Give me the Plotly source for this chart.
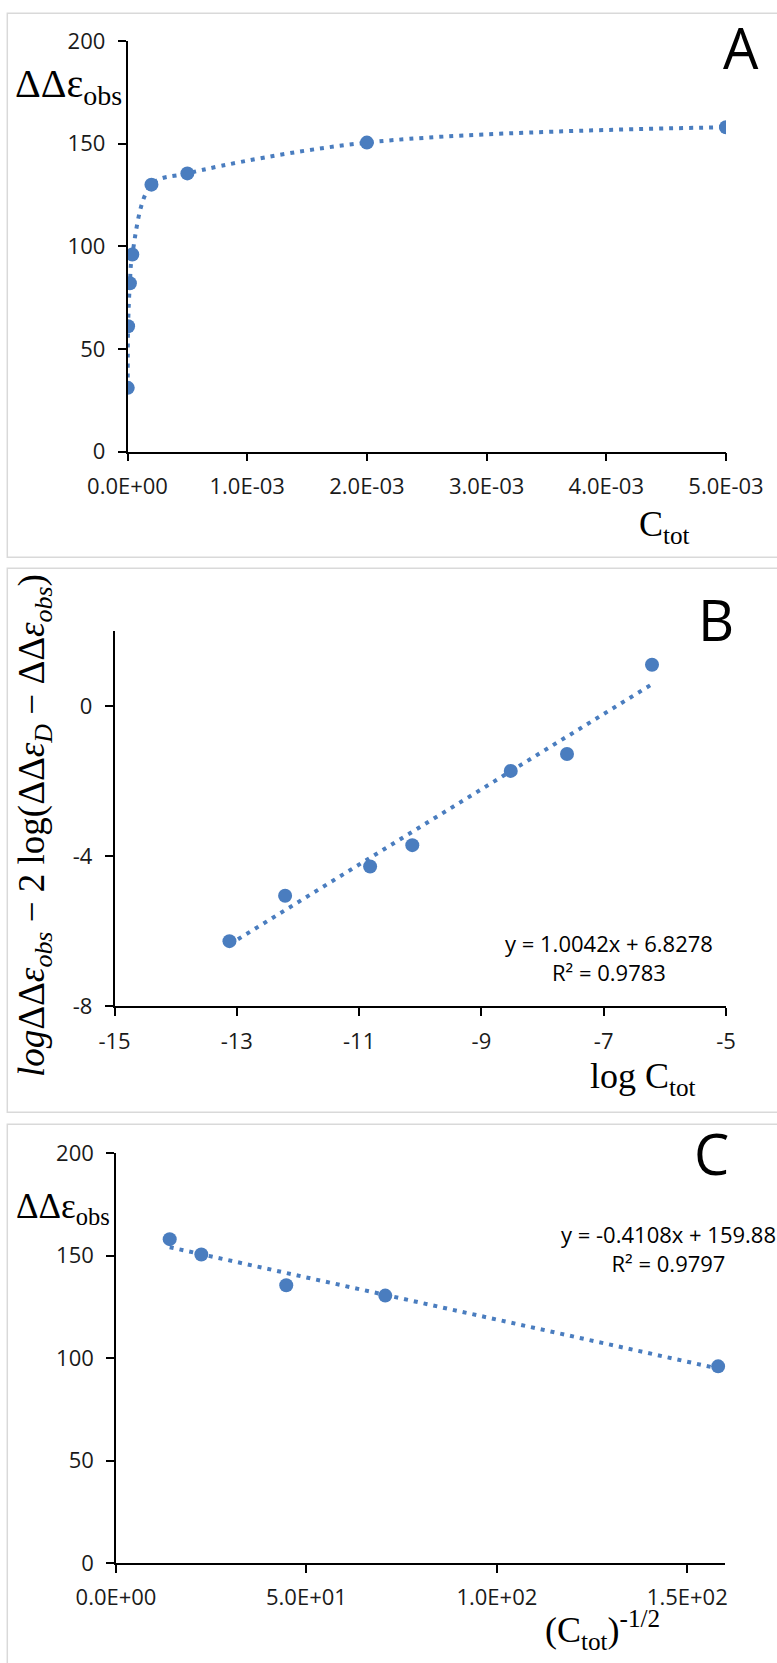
import plotly.graph_objects as go

# ---------------- data ----------------
# Panel A: ΔΔε_obs vs C_tot
a_ctot = [2e-6, 5e-6, 2e-5, 4e-5, 2e-4, 5e-4, 2e-3, 5e-3]
a_dde = [31, 61, 82, 96, 130, 135.5, 150.5, 158]
a_xticks = [0, 1e-3, 2e-3, 3e-3, 4e-3, 5e-3]
a_xticktext = ["0.0E+00", "1.0E-03", "2.0E-03", "3.0E-03", "4.0E-03", "5.0E-03"]
a_yticks = [0, 50, 100, 150, 200]

# Panel B: log-linear fit
b_logc = [-13.12, -12.21, -10.82, -10.13, -8.52, -7.60, -6.21]
b_y = [-6.26, -5.05, -4.27, -3.70, -1.72, -1.27, 1.11]
b_slope, b_icpt, b_r2 = 1.0042, 6.8278, 0.9783
b_xticks = [-15, -13, -11, -9, -7, -5]
b_xticktext = ["-15", "-13", "-11", "-9", "-7", "-5"]
b_yticks = [-8, -4, 0]
b_yticktext = ["-8", "-4", "0"]

# Panel C: ΔΔε_obs vs C_tot^-1/2
c_x = [14.1, 22.4, 44.7, 70.7, 158.1]
c_y = [158, 150.5, 135.5, 130.5, 96]
c_slope, c_icpt, c_r2 = -0.4108, 159.88, 0.9797
c_xticks = [0, 50, 100, 150]
c_xticktext = ["0.0E+00", "5.0E+01", "1.0E+02", "1.5E+02"]
c_yticks = [0, 50, 100, 150, 200]

# ---------------- layout helpers ----------------
W, H = 777, 1663
def px(x):
    return x / W
def py(y):
    return 1 - y / H

BLUE = "#4a7dbf"
DOT = "4px,6px"
TICKFONT = dict(family="Open Sans, sans-serif", size=22, color="#1a1a1a")
SERIF = "Liberation Serif, Times New Roman, serif"

fig = go.Figure()

# Panel A
fig.add_trace(go.Scatter(x=a_ctot, y=a_dde, mode="lines",
                         line=dict(color=BLUE, width=4, dash=DOT, shape="spline", smoothing=1.0),
                         xaxis="x", yaxis="y", hoverinfo="skip"))
fig.add_trace(go.Scatter(x=a_ctot, y=a_dde, mode="markers",
                         marker=dict(color=BLUE, size=14), xaxis="x", yaxis="y"))

# Panel B
bx = [b_logc[0], b_logc[-1]]
by = [b_slope * v + b_icpt for v in bx]
fig.add_trace(go.Scatter(x=bx, y=by, mode="lines",
                         line=dict(color=BLUE, width=4, dash=DOT),
                         xaxis="x2", yaxis="y2", hoverinfo="skip"))
fig.add_trace(go.Scatter(x=b_logc, y=b_y, mode="markers",
                         marker=dict(color=BLUE, size=14), xaxis="x2", yaxis="y2"))

# Panel C
cx = [c_x[0], c_x[-1]]
cy = [c_slope * v + c_icpt for v in cx]
fig.add_trace(go.Scatter(x=cx, y=cy, mode="lines",
                         line=dict(color=BLUE, width=4, dash=DOT),
                         xaxis="x3", yaxis="y3", hoverinfo="skip"))
fig.add_trace(go.Scatter(x=c_x, y=c_y, mode="markers",
                         marker=dict(color=BLUE, size=14), xaxis="x3", yaxis="y3"))

axis_common = dict(showgrid=False, zeroline=False, showline=True, linecolor="black",
                   linewidth=1.5, ticks="outside", ticklen=8, tickwidth=1.5,
                   tickcolor="black", tickfont=TICKFONT, automargin=False)

fig.update_layout(
    width=W, height=H, margin=dict(l=0, r=0, t=0, b=0, pad=0, autoexpand=False),
    paper_bgcolor="white", plot_bgcolor="white", showlegend=False,
    xaxis=dict(domain=[px(127.5), px(726)], range=[0, 0.005], tickvals=a_xticks,
               ticktext=a_xticktext, anchor="y", ticklabelstandoff=6, **axis_common),
    yaxis=dict(domain=[py(451.5), py(41)], range=[0, 200], tickvals=a_yticks,
               anchor="x", ticklabelstandoff=8, **axis_common),
    xaxis2=dict(domain=[px(114.5), px(726)], range=[-15, -5], tickvals=b_xticks,
                ticktext=b_xticktext, anchor="y2", ticklabelstandoff=6, **axis_common),
    yaxis2=dict(domain=[py(1006.4), py(631.4)], range=[-8, 2], tickvals=b_yticks,
                ticktext=b_yticktext, anchor="x2", ticklabelstandoff=8, **axis_common),
    xaxis3=dict(domain=[px(116), px(725.4)], range=[0, 160], tickvals=c_xticks,
                ticktext=c_xticktext, anchor="y3", ticklabelstandoff=6, **axis_common),
    yaxis3=dict(domain=[py(1563.3), py(1153)], range=[0, 200], tickvals=c_yticks,
                anchor="x3", ticklabelstandoff=8, **axis_common),
)

# panel borders
for (y0, y1) in [(13.3, 557.3), (568.3, 1112.3), (1124.3, 1700)]:
    fig.add_shape(type="rect", xref="paper", yref="paper",
                  x0=px(7.3), x1=px(800), y0=py(y1), y1=py(y0),
                  line=dict(color="#d9d9d9", width=1.5), fillcolor="rgba(0,0,0,0)", layer="below")

def ann(text, x, y, size, family, xanchor="center", yanchor="middle", angle=0, align="center"):
    fig.add_annotation(text=text, xref="paper", yref="paper", x=px(x), y=py(y),
                       xanchor=xanchor, yanchor=yanchor, showarrow=False, textangle=angle,
                       align=align, font=dict(size=size, family=family, color="black"))

# panel letters
LET = "Open Sans, sans-serif"
ann("A", 741, 47, 56, LET)
ann("B", 716, 619, 56, LET)
ann("C", 711, 1153, 56, LET)

# axis titles
ann("ΔΔε<sub>obs</sub>", 68, 86, 40, SERIF)
ann("C<sub>tot</sub>", 664, 526, 36, SERIF)
ann("log C<sub>tot</sub>", 643, 1078, 36, SERIF)
ann("ΔΔε<sub>obs</sub>", 63, 1208, 35, SERIF)
ann("(C<sub>tot</sub>)<sup>-1/2</sup>", 602, 1630, 36, SERIF)
ann("<i>log</i>ΔΔ<i>ε</i><sub><i>obs</i></sub> − 2 log(ΔΔ<i>ε</i><sub><i>D</i></sub> − ΔΔ<i>ε</i><sub><i>obs</i></sub>)",
    35, 826, 37, SERIF, angle=-90)

# trendline equations
EQF = "Open Sans, sans-serif"
ann(f"y = {b_slope:.4f}x + {b_icpt:.4f}<br>R² = {b_r2:.4f}", 609, 957, 22, EQF)
ann(f"y = {c_slope:.4f}x + {c_icpt:.2f}<br>R² = {c_r2:.4f}", 668, 1248, 22, EQF)

fig.write_html("out.html", config={"displayModeBar": False},
               post_script="document.body.style.margin='0';document.body.style.padding='0';"
                           "document.body.style.overflow='hidden';")
